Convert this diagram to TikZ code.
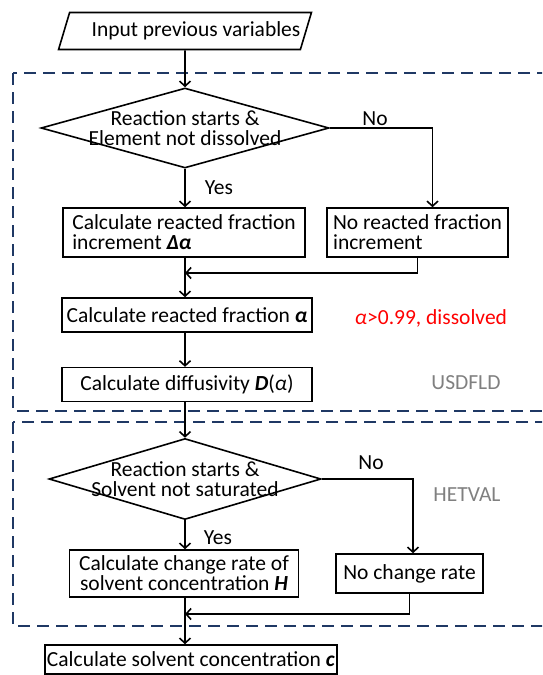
\documentclass[tikz,border=0pt]{standalone}
\usepackage{fontspec}
\setmainfont{Carlito}
\usetikzlibrary{positioning}
\usetikzlibrary{arrows.meta}
\usetikzlibrary{shapes.geometric}
\definecolor{frame}{RGB}{31,56,100}
\definecolor{labgray}{RGB}{128,128,128}
\newcommand{\bi}[1]{\textbf{\textit{#1}}}

\begin{document}
\begin{tikzpicture}[x=1pt,y=-1pt,>={Straight Barb[length=5pt,width=11pt]},line width=1.6pt,
		font=\fontsize{21.5pt}{20pt}\selectfont,
		box/.style={draw,rectangle,inner sep=2pt,align=center},
		cond/.style={draw,diamond,inner sep=0pt},
		region/.style={draw=frame,line width=1.5pt,dash pattern=on 12pt off 7pt}]
		\useasboundingbox (0,0) rectangle (542,675);
		\clip (0,0) rectangle (542,675);
		% dashed regions
		\draw[region] (13,73) rectangle (570,411);
		\draw[region] (13,422) rectangle (570,626);
		% nodes
		\node (a1) [draw,trapezium,trapezium left angle=59,trapezium right angle=121,
			trapezium stretches body,minimum width=237pt,minimum height=37pt,inner sep=0pt] at (185,31) {\hspace*{22pt}Input previous variables};
		\node (a2) [cond,minimum width=288pt,minimum height=80pt,
			label={[align=center,font=\fontsize{21.5pt}{19.5pt}\selectfont]center:Reaction starts \&\\Element not dissolved}] at (185,128) {};
		\node (a3) [box,align=left,minimum width=242pt,minimum height=49pt] at (184,232.5) {Calculate reacted fraction\\increment \bi{Δα}};
		\node (a4) [box,align=left,minimum width=181pt,minimum height=49pt] at (417.5,232.5) {No reacted fraction\\increment};
		\coordinate (m1) at (185,273);
		\node (a5) [box,minimum width=250pt,minimum height=34pt] at (187,315) {Calculate reacted fraction \bi{α}};
		\node (a6) [box,minimum width=250pt,minimum height=34pt,below=34pt of a5] {Calculate diffusivity \bi{D}(\textit{α})};
		\node (a7) [cond,minimum width=272pt,minimum height=81pt,
			label={[align=center,font=\fontsize{21.5pt}{19.5pt}\selectfont]center:Reaction starts \&\\Solvent not saturated}] at (185,479) {};
		\node (a8) [box,minimum width=229pt,minimum height=47pt] at (184,573.5) {Calculate change rate of\\solvent concentration \bi{H}};
		\node (a9) [box,minimum width=147pt,minimum height=39pt] at (409.5,573.5) {No change rate};
		\coordinate (m2) at (185,614);
		\node (a10) [box,minimum width=288pt,minimum height=29pt] at (191,659.5) {Calculate solvent concentration \bi{c}};
		% side texts
		\node (t1) at (375,119) {No};
		\node (t2) at (219,188) {Yes};
		\node (t3) at (371,463) {No};
		\node (t4) at (218,538) {Yes};
		\node (t5) [text=red] at (431,318) {\textit{α}>0.99, dissolved};
		\node (t6) [text=labgray] at (466,383) {USDFLD};
		\node (t7) [text=labgray] at (467,495) {HETVAL};
		% connectors
		\draw[->] (a1) -- (a2);
		\draw[->] (a2) -- (a2 |- a3.north);
		\draw[->] (a2.east) -| ([xshift=15pt]a4.north);
		\draw[->] (a2 |- a3.south) -- (a2 |- a5.north);
		\draw[->] (a4.south) |- (m1);
		\draw[->] (a2 |- a5.south) -- (a2 |- a6.north);
		\draw[->] (a2 |- a6.south) -- (a7);
		\draw[->] (a7) -- (a7 |- a8.north);
		\draw[->] (a7.east) -| ([xshift=3.5pt]a9.north);
		\draw[->] (a7 |- a8.south) -- (a7 |- a10.north);
		\draw[->] (a9.south) |- (m2);
		\end{tikzpicture}
\end{document}
